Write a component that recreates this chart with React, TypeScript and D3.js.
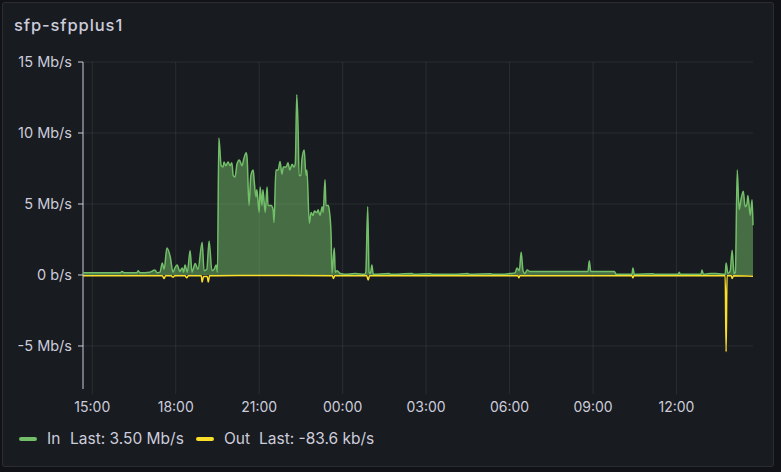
import React from "react";
import * as d3 from "d3";

const W = 781;
const H = 472;

const startTime = "14:40";
const endTime = "14:45";

const inTimes = [
  "14:40","16:00","16:04","16:09","16:36","16:39","16:43","17:04","17:15","17:20","17:26","17:31","17:35","17:41","17:48","17:54","17:59","18:03","18:09","18:14","18:17","18:20","18:25","18:31","18:35","18:42","18:48","18:57","19:01","19:07","19:12","19:18","19:23","19:27","19:30",
  "19:33","19:38","19:42","19:44","19:48","19:53","19:57","20:01","20:04","20:08","20:12","20:17","20:23","20:27","20:32","20:34","20:38","20:42","20:47","20:49","20:53","20:55","21:00","21:02","21:06","21:08","21:13","21:17","21:19","21:26","21:30","21:32",
  "21:36","21:41","21:45","21:49","21:52","21:58","22:02","22:06","22:11","22:15","22:18","22:21","22:24","22:26","22:30","22:32","22:37","22:41","22:43","22:48","22:52","22:56","22:59","23:05","23:07","23:11","23:16","23:18","23:22","23:24","23:29","23:31","23:35","23:37","23:42","23:44","23:48","23:55",
  "00:05","00:27","00:48","00:50","00:54","00:57","01:00","01:03","01:06","01:40","01:43","02:30","02:33","03:10","03:13","04:00","04:30","04:33","05:20","05:23","05:50","06:01","06:12","06:16","06:21","06:25","06:29","06:33","06:38","06:44","07:20","07:49","08:20","08:49","08:52","08:55","09:46","09:50","10:24","10:26","10:29","11:10","11:13","12:04","12:06","12:08","12:53","12:55","12:58","13:12","13:25","13:45","13:47","13:51","13:56","14:00","14:04","14:07","14:11","14:15","14:19","14:24","14:28","14:32","14:34","14:39","14:43","14:45"
];
const inValues = [
  0.15,0.15,0.25,0.15,0.15,0.3,0.15,0.2,0.35,0.15,0.2,0.85,0.4,1.9,1.3,0.2,0.55,0.7,0.25,0.5,0.2,0.7,0.2,1.7,0.2,0.8,0.4,2.3,0.3,0.4,2.4,0.3,0.4,0.7,0.2,
  9.65,7.7,7.6,7.95,7.7,7.95,7.7,7.9,7.0,6.9,7.8,8.1,7.7,8.2,8.6,8.2,4.9,7.0,7.4,6.7,5.5,6.0,4.4,6.2,4.9,6.0,4.4,6.2,4.9,4.9,4.6,3.7,
  7.4,7.4,8.0,7.1,7.6,7.6,7.9,7.4,7.8,7.6,7.9,12.7,10.2,7.0,7.0,8.1,8.8,7.0,7.4,3.65,4.4,4.2,4.5,4.4,4.6,4.2,4.8,4.4,6.7,4.9,4.9,4.6,2.9,0.1,1.9,0.2,0.3,0.1,
  0.05,0.1,0.05,0.2,4.8,0.2,0.1,0.7,0.05,0.1,0.05,0.1,0.05,0.08,0.05,0.05,0.1,0.05,0.08,0.05,0.05,0.1,0.15,0.5,0.3,1.6,0.3,0.1,0.35,0.25,0.25,0.25,0.25,0.25,1.0,0.25,0.25,0.05,0.05,0.5,0.05,0.08,0.05,0.05,0.2,0.05,0.05,0.35,0.05,0.1,0.1,0.05,0.85,0.1,0.3,1.75,0.1,0.2,7.4,4.6,5.3,5.9,4.8,5.0,5.6,4.2,5.3,3.5
];

const outTimes = [
  "14:40","16:00","17:31","17:35","17:38","17:50","17:54","17:58","18:20","18:24","18:27","18:55","18:57","19:00","19:08","19:10","19:13","19:30","21:00","23:38","23:40","23:43","00:52","00:55","00:58","06:18","06:20","06:22","10:24","10:26","10:28","13:45","13:47","13:49","13:58","14:00","14:03","14:45"
];
const outValues = [
  -0.05,-0.05,-0.05,-0.25,-0.05,-0.05,-0.15,-0.05,-0.05,-0.2,-0.05,-0.05,-0.5,-0.1,-0.1,-0.5,-0.05,-0.05,-0.03,-0.05,-0.25,-0.05,-0.05,-0.35,-0.05,-0.05,-0.2,-0.05,-0.05,-0.2,-0.05,-0.05,-5.4,-0.05,-0.05,-0.25,-0.05,-0.0836
];

const yTickValues = [-5, 0, 5, 10, 15];
const yTickLabels = ["-5 Mb/s", "0 b/s", "5 Mb/s", "10 Mb/s", "15 Mb/s"];
const yDomain = [-8.03, 15];

const seriesNames = ["In", "Out"];
const seriesLast = ["Last: 3.50 Mb/s", "Last: -83.6 kb/s"];
const seriesColors = ["#73BF69", "#FADE2A"];

function parseSeries(times: string[]) {
  let day = 1;
  let prev = -1;
  return times.map((t) => {
    const [h, m] = t.split(":").map(Number);
    const mins = h * 60 + m;
    if (prev >= 0 && mins < prev) day += 1;
    prev = mins;
    return new Date(2024, 0, day, h, m);
  });
}

export default function App() {
  const left = 83, right = 753, top = 62, bottom = 389;
  const [sh, sm] = startTime.split(":").map(Number);
  const [eh, em] = endTime.split(":").map(Number);
  const x = d3.scaleTime()
    .domain([new Date(2024, 0, 1, sh, sm), new Date(2024, 0, 2, eh, em)])
    .range([left, right]);
  const y = d3.scaleLinear().domain(yDomain).range([bottom, top]);

  const inDates = parseSeries(inTimes);
  const outDates = parseSeries(outTimes);
  const inData = inDates.map((d, i) => ({ d, v: inValues[i] }));
  const outData = outDates.map((d, i) => ({ d, v: outValues[i] }));

  const line = d3.line<{ d: Date; v: number }>()
    .x((p) => x(p.d))
    .y((p) => y(p.v))
    .curve(d3.curveMonotoneX);
  const area = d3.area<{ d: Date; v: number }>()
    .x((p) => x(p.d))
    .y0(y(0))
    .y1((p) => y(p.v))
    .curve(d3.curveMonotoneX);

  const xTicks = x.ticks(d3.timeHour.every(3) as any);
  const fmt = d3.timeFormat("%H:%M");
  const grid = "rgba(204,204,220,0.1)";
  const text = "#ccccdc";
  const font = "Inter, 'Noto Sans', sans-serif";

  return (
    <div style={{ position: "fixed", left: 0, top: 0, width: W, height: H, background: "#111217" }}>
      <svg width={W} height={H} style={{ display: "block" }} fontFamily={font}>
        <rect x={2.5} y={2.5} width={771} height={464} rx={2} fill="#181b1f" stroke="rgba(204,204,220,0.12)" />
        <text x={14} y={31} fill={text} fontSize={16.5} fontWeight={500} letterSpacing={0.9}>sfp-sfpplus1</text>
        {yTickValues.map((v) => (
          <line key={"hg" + v} x1={left} x2={right} y1={y(v)} y2={y(v)} stroke={grid} />
        ))}
        {xTicks.map((t, i) => (
          <line key={"vg" + i} x1={x(t)} x2={x(t)} y1={top} y2={bottom + 5} stroke={grid} />
        ))}
        <line x1={left} x2={left} y1={top} y2={bottom} stroke={text} />
        {yTickValues.map((v, i) => (
          <g key={"yt" + v}>
            <line x1={left - 5} x2={left} y1={y(v)} y2={y(v)} stroke={text} />
            <text x={72} y={y(v)} dy="0.36em" textAnchor="end" fill={text} fontSize={14.5}>{yTickLabels[i]}</text>
          </g>
        ))}
        {xTicks.map((t, i) => (
          <text key={"xt" + i} x={x(t)} y={412} textAnchor="middle" fill={text} fontSize={14}>{fmt(t)}</text>
        ))}
        <path d={area(inData) || ""} fill={seriesColors[0]} fillOpacity={0.5} />
        <path d={line(inData) || ""} fill="none" stroke={seriesColors[0]} strokeWidth={1.5} />
        <path d={line(outData) || ""} fill="none" stroke={seriesColors[1]} strokeWidth={1.5} />
        <g>
          <line x1={21} x2={35} y1={439} y2={439} stroke={seriesColors[0]} strokeWidth={4} strokeLinecap="round" />
          <text x={47} y={444} fill={text} fontSize={15.5}>{seriesNames[0]}</text>
          <text x={70} y={444} fill={text} fontSize={15.5}>{seriesLast[0]}</text>
          <line x1={198} x2={212} y1={439} y2={439} stroke={seriesColors[1]} strokeWidth={4} strokeLinecap="round" />
          <text x={224} y={444} fill={text} fontSize={15.5}>{seriesNames[1]}</text>
          <text x={259} y={444} fill={text} fontSize={15.5}>{seriesLast[1]}</text>
        </g>
      </svg>
    </div>
  );
}
